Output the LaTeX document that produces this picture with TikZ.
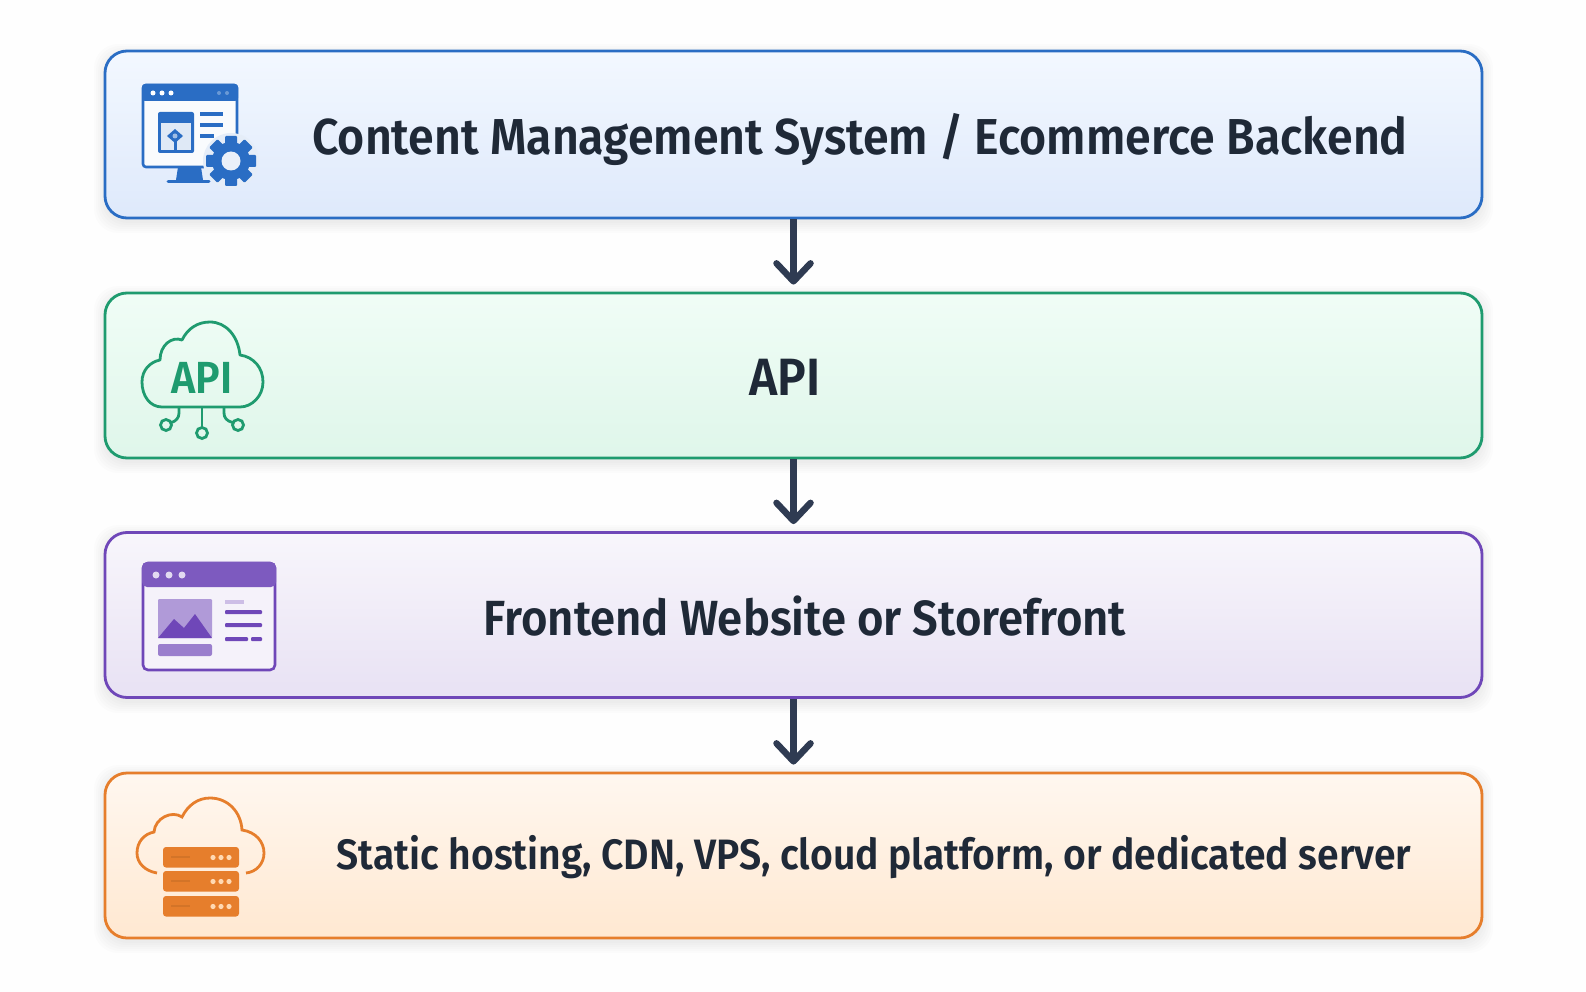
\documentclass[tikz,border=0pt]{standalone}
\usepackage{fontspec}
\setmainfont{Fira Sans}[FakeStretch=0.92,BoldFont={Fira Sans SemiBold}]
\usetikzlibrary{arrows.meta}
\definecolor{inkdark}{HTML}{1F2937}
\definecolor{arrowdark}{HTML}{2F3B52}
\definecolor{cmsblue}{HTML}{2A6DC4}
\definecolor{apigreen}{HTML}{1F9B6F}
\definecolor{webpurple}{HTML}{6F47B8}
\definecolor{hostorange}{HTML}{E67E2C}
\definecolor{cmstop}{HTML}{F3F8FF}
\definecolor{cmsbottom}{HTML}{DEE9FB}
\definecolor{apitop}{HTML}{F0FDF6}
\definecolor{apibottom}{HTML}{DFF6EA}
\tikzset{
  panel/.style={draw=#1,line width=2.8pt,rounded corners=22pt,minimum width=1377pt,minimum height=165pt,inner sep=0pt},
  paneltext/.style={font=\fontsize{#1}{#1}\selectfont\bfseries,text=inkdark,inner sep=0pt},
  flow/.style={draw=arrowdark,line width=6.5pt,-{Straight Barb[round,length=18pt,width=34pt,line width=6.5pt]}},
}
% blurred shadow under a panel
\newcommand{\softshadow}[2]{
  \foreach \g in {1,3,...,11}
    \fill[black,opacity=.012,rounded corners=24pt] (105-\g,#1-\g+4) rectangle (1482+\g,#2+\g+4);
}
\begin{document}
\begin{tikzpicture}[x=1pt,y=-1pt]
  \useasboundingbox (0,0) rectangle (1586,992);
  \fill[white!99.5!black] (0,0) rectangle (1586,992);
  % panels
  \softshadow{51}{218}
  \softshadow{293}{458}
  \softshadow{532}{698}
  \softshadow{772}{938}
  \node[panel=cmsblue,minimum height=167pt,top color=cmstop,bottom color=cmsbottom] (cmsbox) at (793.5,134.5) {};
  \node[panel=apigreen,top color=apitop,bottom color=apibottom] (apibox) at (793.5,375.5) {};
  \node[panel=webpurple,top color=webpurple!5!white,bottom color=webpurple!16!white] (webbox) at (793.5,615) {};
  \node[panel=hostorange,top color=orange!6!white,bottom color=orange!18!white] (hostbox) at (793.5,855.5) {};
  % labels
  \node[paneltext=50.5] (cmstext) at (860,139.5) {Content Management System / Ecommerce Backend};
  \node[paneltext=52.5] (apitext) at (785,377) {API};
  \node[paneltext=49.4] (webtext) at (805,616) {Frontend Website or Storefront};
  \node[paneltext=42.5] (hosttext) at (874,857) {Static hosting, CDN, VPS, cloud platform, or dedicated server};
  % arrows
  \draw[flow] (cmsbox.south) -- ([yshift=7pt]apibox.north);
  \draw[flow] (apibox.south) -- ([yshift=7pt]webbox.north);
  \draw[flow] (webbox.south) -- ([yshift=7pt]hostbox.north);
  % cms icon
  \draw[cmsblue,line width=2.6pt,fill=cmsblue!3!white,rounded corners=3pt] (143,85) rectangle (237,167);
  \fill[cmsblue,rounded corners=3pt] (142,84) rectangle (238,101);
  \foreach \x in {153,162,171} \fill[white] (\x,93) circle (2.5);
  \foreach \x in {219,227} \fill[white,opacity=.3] (\x,93) circle (2);
  \fill[cmsblue,rounded corners=2pt] (158,112) rectangle (194,153);
  \fill[white!85!cmsblue] (161,123) rectangle (191,150);
  \fill[cmsblue] (175,129) -- (183,136) -- (175,143) -- (167,136) -- cycle;
  \fill[cmsblue] (173.5,140) rectangle (176.5,151);
  \fill[white!55!cmsblue] (175,136) circle (2.5);
  \foreach \y/\e in {114/223,125/223,136/214} \draw[cmsblue,line width=3.6pt] (200,\y) -- (\e,\y);
  \fill[cmsblue] (178,167) -- (201,167) -- (203,180) -- (176,180) -- cycle;
  \draw[cmsblue,line width=3pt,line cap=round] (168,181.5) -- (209,181.5);
  \fill[white!88!cmsblue] (231,161) circle (28);
  \foreach \a in {0,45,...,315}
    \fill[cmsblue,rotate around={\a:(231,161)},rounded corners=1pt] (225,136) rectangle (237,150);
  \fill[cmsblue] (231,161) circle (19);
  \fill[white!90!cmsblue] (231,161) circle (9.5);
  % api icon
  \draw[apigreen,line width=2.8pt,line join=round] (162,407) .. controls (150,407) and (142,396) .. (142,382)
    .. controls (142,370) and (150,362) .. (160,360) .. controls (160,345) and (172,336) .. (182,340)
    .. controls (188,328) and (198,322) .. (210,322) .. controls (226,322) and (238,336) .. (240,355)
    .. controls (254,357) and (263,368) .. (263,382) .. controls (263,396) and (252,407) .. (240,407) -- cycle;
  \node[font=\fontsize{45}{45}\selectfont\bfseries,text=apigreen,inner sep=0pt] (apiicon) at (202,378) {API};
  \foreach \x/\y in {166/425,202/433,238/425} \draw[apigreen,line width=2.8pt] (\x,\y) circle (5.5);
  \draw[apigreen,line width=2.8pt] (202,407) -- (202,427);
  \draw[apigreen,line width=2.8pt] (179,407) -- (179,413) .. controls (179,418) and (176,421) .. (171.5,422.5);
  \draw[apigreen,line width=2.8pt] (224,407) -- (224,413) .. controls (224,418) and (227,421) .. (232.5,422.5);
  % web icon
  \draw[webpurple,line width=2.6pt,fill=webpurple!7!white,rounded corners=5pt] (143,563) rectangle (275,670);
  \fill[webpurple!90!white,rounded corners=5pt] (142,562) -- (276,562) -- (276,587) -- (142,587) -- cycle;
  \foreach \x in {156,169,182} \fill[white!80!webpurple] (\x,575) circle (3.5);
  \fill[webpurple!55!white,rounded corners=1pt] (158,599) rectangle (212,638);
  \fill[webpurple] (158,638) -- (174,619) -- (184,628) -- (195,614) -- (212,638) -- cycle;
  \fill[webpurple!70!white,rounded corners=2pt] (158,644) rectangle (212,656);
  \fill[webpurple!35!white] (225,600) rectangle (244,604);
  \foreach \y in {612,625} \fill[webpurple,rounded corners=1pt] (225,\y-2) rectangle (262,\y+2);
  \fill[webpurple,rounded corners=1pt] (225,637) rectangle (248,641);
  \fill[webpurple,rounded corners=1pt] (251,637) rectangle (262,641);
  % host icon
  \draw[hostorange,line width=2.8pt] (157,873) .. controls (145,871) and (137,863) .. (137,853)
    .. controls (137,842) and (144,834) .. (154,832) .. controls (155,818) and (172,810) .. (182,817)
    .. controls (188,805) and (198,798) .. (210,798) .. controls (228,798) and (241,812) .. (242,830)
    .. controls (256,832) and (264,842) .. (264,853) .. controls (264,864) and (256,872) .. (246,873);
  \foreach \t in {847,871,896} {
    \fill[hostorange,rounded corners=3pt] (163,\t) rectangle (239,\t+20.5);
    \fill[black,opacity=.08] (171,\t+9) rectangle (190,\t+11);
    \foreach \x in {213,221,229} \fill[orange!30!white] (\x,\t+10.5) circle (2.6);
  }
\end{tikzpicture}
\end{document}
